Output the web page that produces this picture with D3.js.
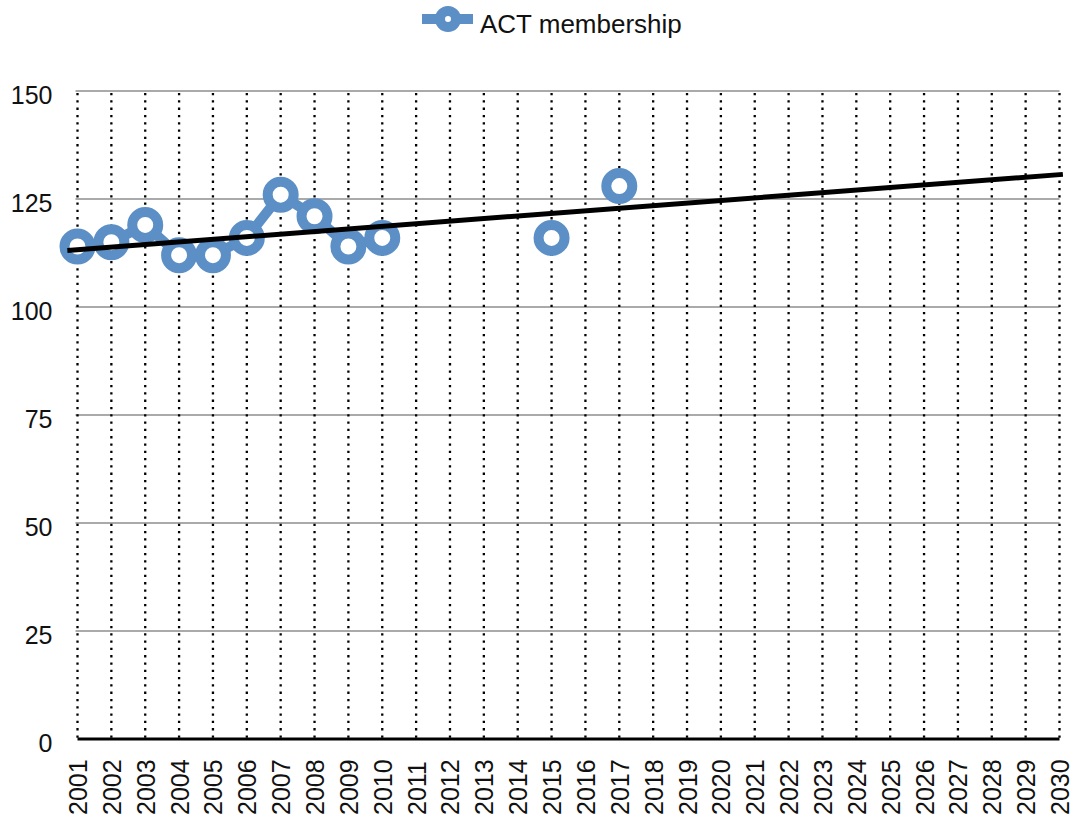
<!DOCTYPE html>
<html>
<head>
<meta charset="utf-8">
<script src="https://cdn.jsdelivr.net/npm/d3@7"></script>
<style>
  html, body { margin: 0; padding: 0; background: #fff; }
  svg { display: block; font-family: "Liberation Sans", Arial, Helvetica, sans-serif; }
</style>
</head>
<body>
<svg id="chart" width="1078" height="821"></svg>
<script>
// ---- data ----
const years = d3.range(2001, 2031);
const seriesName = "ACT membership";
const membershipYears = [2001, 2002, 2003, 2004, 2005, 2006, 2007, 2008, 2009, 2010, 2011, 2012, 2013, 2014, 2015, 2016, 2017];
const membershipValues = [114, 115, 119, 112, 112, 116, 126, 121, 114, 116, null, null, null, null, 116, null, 128];
const trendYears = [2000.7, 2030.1];
const trendValues = [113.1, 130.7];
const yTicks = [0, 25, 50, 75, 100, 125, 150];

// ---- layout ----
const svg = d3.select("#chart");
const mLeft = 77.5, mRight = 1059.5, mTop = 91, mBottom = 739;
const blue = "#5b8fc6";

const x = d3.scaleLinear().domain([2001, 2030]).range([mLeft, mRight]);
const y = d3.scaleLinear().domain([0, 150]).range([mBottom, mTop]);

// horizontal gridlines
svg.append("g").selectAll("line").data(yTicks.filter(d => d > 0)).join("line")
  .attr("x1", mLeft - 2).attr("x2", mRight)
  .attr("y1", d => y(d)).attr("y2", d => y(d))
  .attr("stroke", "#aaaaaa").attr("stroke-width", 2);

// vertical dotted lines
svg.append("g").selectAll("line").data(years).join("line")
  .attr("x1", d => x(d)).attr("x2", d => x(d))
  .attr("y1", mTop + 2).attr("y2", mBottom)
  .attr("stroke", "#000").attr("stroke-width", 2.3)
  .attr("stroke-dasharray", "2.3 5");

// y-axis (labels only)
const yAxis = d3.axisLeft(y).tickValues(yTicks).tickSize(0).tickPadding(0).tickFormat(d3.format("d"));
const gy = svg.append("g").attr("transform", `translate(${mLeft - 25},0)`).call(yAxis);
gy.select(".domain").remove();
gy.selectAll("text")
  .attr("font-size", 25).attr("fill", "#111")
  .attr("font-family", "'Liberation Sans', Arial, sans-serif")
  .attr("dy", "0.5em");

// baseline
svg.append("line")
  .attr("x1", mLeft).attr("x2", mRight)
  .attr("y1", mBottom).attr("y2", mBottom)
  .attr("stroke", "#000").attr("stroke-width", 3);

// x-axis labels (rotated)
const xAxis = d3.axisBottom(x).tickValues(years).tickSize(0).tickFormat(d3.format("d"));
const gx = svg.append("g").attr("transform", `translate(0,${mBottom})`).call(xAxis);
gx.select(".domain").remove();
gx.selectAll(".tick text")
  .attr("font-size", 25).attr("fill", "#111")
  .attr("font-family", "'Liberation Sans', Arial, sans-serif")
  .attr("text-anchor", "start")
  .attr("y", 0).attr("dy", 0)
  .attr("transform", "translate(9,76) rotate(-90)");

// series
const pts = membershipYears.map((yr, i) => ({ year: yr, value: membershipValues[i] }));
const line = d3.line().defined(d => d.value != null).x(d => x(d.year)).y(d => y(d.value));
svg.append("path").datum(pts)
  .attr("d", line).attr("fill", "none")
  .attr("stroke", blue).attr("stroke-width", 10)
  .attr("stroke-linejoin", "round");

svg.append("g").selectAll("circle").data(pts.filter(d => d.value != null)).join("circle")
  .attr("cx", d => x(d.year)).attr("cy", d => y(d.value))
  .attr("r", 13).attr("fill", "#fff")
  .attr("stroke", blue).attr("stroke-width", 10);

// trend line
const trend = trendYears.map((yr, i) => ({ year: yr, value: trendValues[i] }));
svg.append("path").datum(trend)
  .attr("d", d3.line().x(d => x(d.year)).y(d => y(d.value)))
  .attr("fill", "none").attr("stroke", "#000").attr("stroke-width", 5);

// legend
const lg = svg.append("g");
lg.append("line").attr("x1", 422).attr("x2", 473).attr("y1", 19).attr("y2", 19)
  .attr("stroke", blue).attr("stroke-width", 10);
lg.append("circle").attr("cx", 448).attr("cy", 19).attr("r", 8)
  .attr("fill", "#fff").attr("stroke", blue).attr("stroke-width", 10);
lg.append("text").attr("x", 480).attr("y", 33)
  .attr("font-size", 26).attr("fill", "#111")
  .text(seriesName);
</script>
</body>
</html>
